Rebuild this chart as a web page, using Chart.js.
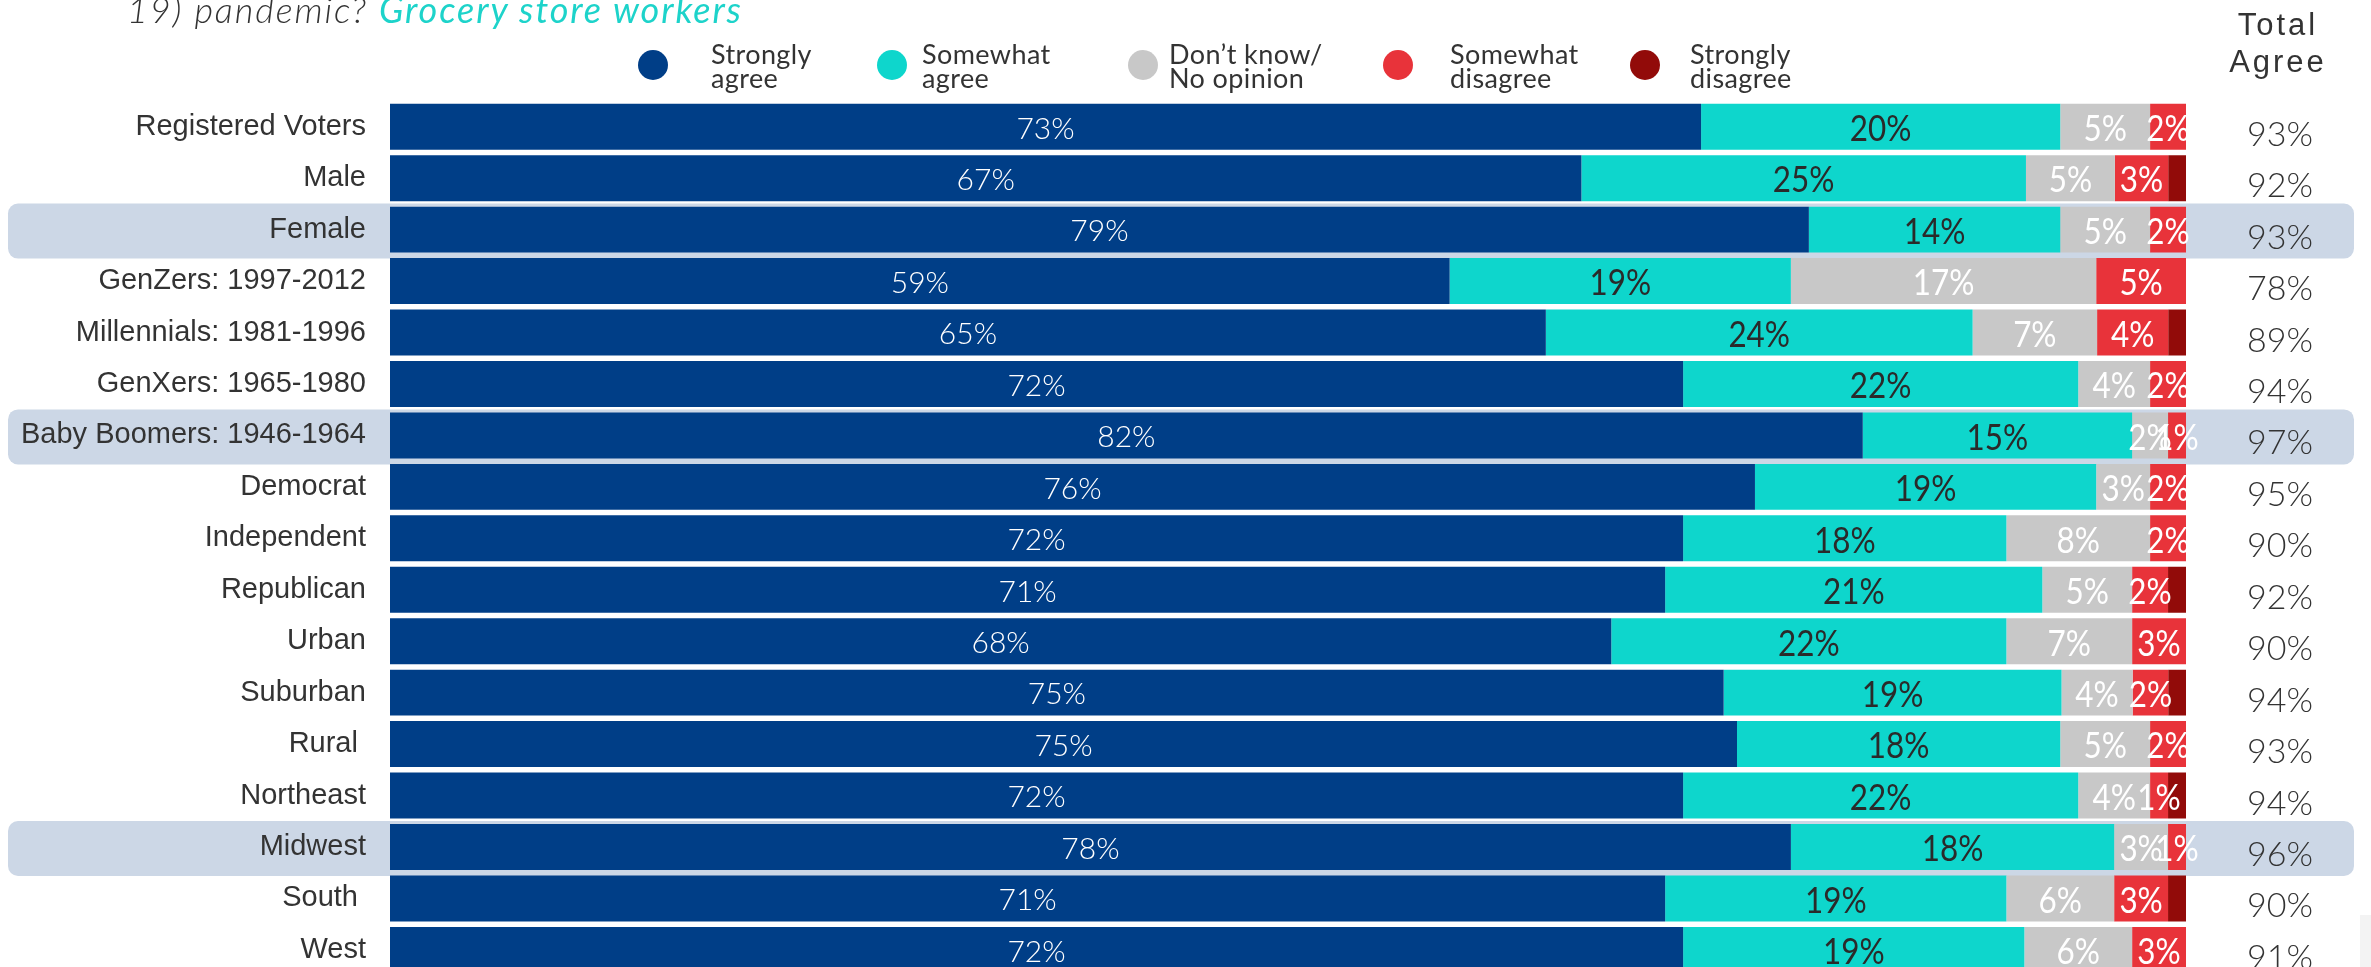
<!DOCTYPE html>
<html>
<head>
<meta charset="utf-8">
<script src="https://cdn.jsdelivr.net/npm/chart.js@4.4.1/dist/chart.umd.min.js"></script>
<style>
  html, body { margin: 0; padding: 0; background: #fff; overflow: hidden; }
  body { width: 2371px; height: 967px; position: relative; }
  #chart { position: absolute; left: 0; top: 0; }
  .title { position: absolute; left: 127px; top: -9px; font: italic 300 36px Lato, sans-serif; line-height: 36px; letter-spacing: 1.9px; color: #333; white-space: nowrap; }
  .title span { color: #1DD3CA; font-weight: 400; }
  .dot { position: absolute; width: 30px; height: 30px; border-radius: 50%; top: 50px; }
  .lg { position: absolute; top: 42px; font: 400 27px Lato, sans-serif; line-height: 24px; letter-spacing: 0.4px; color: #333; white-space: nowrap; }
  .total-head { position: absolute; left: 2178px; width: 200px; top: 6px; text-align: center; font: 31px 'Liberation Sans', Arial, sans-serif; line-height: 37px; letter-spacing: 3px; color: #333; }
  .corner { position: absolute; left: 2360px; top: 915px; width: 11px; height: 52px; background: #f3f3f3; }
</style>
</head>
<body>
<canvas id="chart" width="2371" height="1009"></canvas>
<div class="title">19) pandemic? <span>Grocery store workers</span></div>
<div id="legend"></div>
<div class="total-head">Total<br>Agree</div>
<div class="corner"></div>
<script>
// Data
const categories = ['Registered Voters', 'Male', 'Female', 'GenZers: 1997-2012', 'Millennials: 1981-1996', 'GenXers: 1965-1980', 'Baby Boomers: 1946-1964', 'Democrat', 'Independent', 'Republican', 'Urban', 'Suburban', 'Rural ', 'Northeast', 'Midwest', 'South ', 'West'];
const stronglyAgree    = [73, 67, 79, 59, 65, 72, 82, 76, 72, 71, 68, 75, 75, 72, 78, 71, 72];
const somewhatAgree    = [20, 25, 14, 19, 24, 22, 15, 19, 18, 21, 22, 19, 18, 22, 18, 19, 19];
const dontKnow         = [5, 5, 5, 17, 7, 4, 2, 3, 8, 5, 7, 4, 5, 4, 3, 6, 6];
const somewhatDisagree = [2, 3, 2, 5, 4, 2, 1, 2, 2, 2, 3, 2, 2, 1, 1, 3, 3];
const stronglyDisagree = [0, 1, 0, 0, 1, 0, 0, 0, 0, 1, 0, 1, 0, 1, 0, 1, 0];
const totalAgree       = [93, 92, 93, 78, 89, 94, 97, 95, 90, 92, 90, 94, 93, 94, 96, 90, 91];
const highlighted = ['Female', 'Baby Boomers: 1946-1964', 'Midwest'];
const seriesNames = [['Strongly', 'agree'], ['Somewhat', 'agree'], ['Don’t know/', 'No opinion'], ['Somewhat', 'disagree'], ['Strongly', 'disagree']];

const seriesValues = [stronglyAgree, somewhatAgree, dontKnow, somewhatDisagree, stronglyDisagree];
const colors = ['#003E87', '#0ED6CC', '#C8C8C8', '#E8333A', '#920B09'];

// label look per series (dark red segments carry no label)
const labelStyle = [
  { size: 30, weight: 300, color: '#ffffff', squeeze: 1 },
  { size: 37, weight: 400, color: '#2a2a2a', squeeze: 0.85 },
  { size: 37, weight: 400, color: '#ffffff', squeeze: 0.85 },
  { size: 37, weight: 400, color: '#ffffff', squeeze: 0.85 },
  null
];

// legend
const legendDotX = [638, 877, 1128, 1383, 1630];
const legendTextX = [711, 922, 1169, 1450, 1690];
const legendEl = document.getElementById('legend');
seriesNames.forEach((lines, k) => {
  const dot = document.createElement('div');
  dot.className = 'dot';
  dot.style.left = legendDotX[k] + 'px';
  dot.style.background = colors[k];
  legendEl.appendChild(dot);
  const txt = document.createElement('div');
  txt.className = 'lg';
  txt.style.left = legendTextX[k] + 'px';
  txt.innerHTML = lines.join('<br>');
  legendEl.appendChild(txt);
});

// 100% stacked: each row scaled to its own total
const rowTotals = categories.map((c, i) => seriesValues.reduce((s, arr) => s + arr[i], 0));

const rowHighlight = {
  id: 'rowHighlight',
  beforeDraw(chart) {
    const y = chart.scales.y;
    const ctx = chart.ctx;
    ctx.save();
    ctx.fillStyle = '#CCD7E6';
    categories.forEach((c, i) => {
      if (!highlighted.includes(c)) return;
      const cy = y.getPixelForValue(i);
      ctx.beginPath();
      ctx.roundRect(8, cy - 26, 2346, 55, 10);
      ctx.fill();
    });
    ctx.restore();
  }
};

const segLabels = {
  id: 'segLabels',
  afterDatasetsDraw(chart) {
    const ctx = chart.ctx;
    ctx.save();
    ctx.textAlign = 'center';
    ctx.textBaseline = 'alphabetic';
    chart.data.datasets.forEach((ds, k) => {
      const st = labelStyle[k];
      if (!st) return;
      const meta = chart.getDatasetMeta(k);
      meta.data.forEach((bar, i) => {
        const v = ds.raw[i];
        if (!v) return;
        const cx = (bar.x + bar.base) / 2;
        ctx.font = st.weight + ' ' + st.size + 'px Lato, sans-serif';
        ctx.fillStyle = st.color;
        ctx.save();
        ctx.translate(cx, bar.y + st.size * 0.36 + 1);
        ctx.scale(st.squeeze, 1);
        ctx.fillText(v + '%', 0, 0);
        ctx.restore();
      });
    });
    // Total Agree column
    const y = chart.scales.y;
    ctx.font = '300 34px Lato, sans-serif';
    ctx.fillStyle = '#333';
    totalAgree.forEach((t, i) => {
      ctx.fillText(t + '%', 2280, y.getPixelForValue(i) + 19);
    });
    ctx.restore();
  }
};

const chart = new Chart(document.getElementById('chart').getContext('2d'), {
  type: 'bar',
  data: {
    labels: categories,
    datasets: seriesValues.map((arr, k) => ({
      label: seriesNames[k].join(' '),
      data: arr.map((v, i) => v / rowTotals[i] * 100),
      raw: arr,
      backgroundColor: colors[k],
      borderWidth: 0,
      barPercentage: 0.893,
      categoryPercentage: 1
    }))
  },
  options: {
    indexAxis: 'y',
    responsive: false,
    animation: false,
    layout: { padding: { left: 0, right: 185, top: 101, bottom: 23 } },
    plugins: {
      legend: { display: false },
      tooltip: { enabled: false }
    },
    scales: {
      x: {
        stacked: true,
        min: 0,
        max: 100,
        display: false
      },
      y: {
        stacked: true,
        grid: { display: false },
        border: { display: false },
        ticks: {
          color: '#333',
          padding: 16,
          font: { family: "'Liberation Sans', Arial, sans-serif", size: 29 }
        },
        afterFit(scale) { scale.width = 390; }
      }
    }
  },
  plugins: [rowHighlight, segLabels]
});
</script>
</body>
</html>
